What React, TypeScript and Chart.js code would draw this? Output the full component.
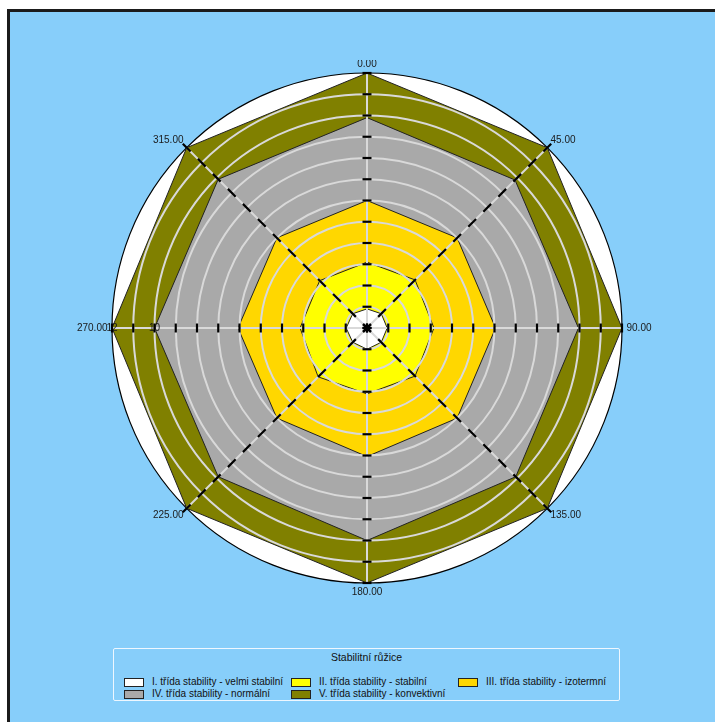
import React, { useEffect, useRef } from "react";
import { Chart, registerables } from "chart.js";

Chart.register(...registerables);

// ---- data ----
const directions = ["0.00", "45.00", "90.00", "135.00", "180.00", "225.00", "270.00", "315.00"];
// outer radius of each stability class polygon (cumulative), per direction
const classI = [0.9, 0.95, 0.95, 0.95, 1.0, 0.95, 0.98, 0.95];
const classII = [3.1, 3.2, 3.15, 3.2, 3.1, 3.25, 3.15, 3.15];
const classIII = [6.0, 6.0, 6.05, 6.0, 6.05, 6.0, 6.07, 6.0];
const classIV = [9.9, 9.85, 9.95, 9.9, 10.0, 9.9, 10.0, 9.9];
const classV = [12, 12, 12, 12, 12, 12, 12, 12];

const seriesNames = [
  "I. třída stability - velmi stabilní",
  "II. třída stability - stabilní",
  "III. třída stability - izotermní",
  "IV. třída stability - normální",
  "V. třída stability - konvektivní",
];
const seriesColors = ["#FFFFFF", "#FFFF00", "#FFD700", "#A9A9A9", "#808000"];
const legendTitle = "Stabilitní růžice";
const axisTickLabels = [10, 12];
const scaleMax = 12;

const FONT = "'Liberation Sans', Arial, sans-serif";

const decorPlugin = {
  id: "decor",
  beforeDatasetsDraw(chart: any) {
    const s = chart.scales.r;
    const ctx = chart.ctx;
    ctx.save();
    ctx.beginPath();
    ctx.arc(s.xCenter, s.yCenter, s.drawingArea, 0, Math.PI * 2);
    ctx.fillStyle = "#FFFFFF";
    ctx.fill();
    ctx.restore();
  },
  afterDraw(chart: any) {
    const s = chart.scales.r;
    const ctx = chart.ctx;
    ctx.save();
    // tick labels along the 270 axis
    ctx.font = "10px " + FONT;
    ctx.fillStyle = "#1a1a1a";
    ctx.textAlign = "center";
    ctx.textBaseline = "middle";
    axisTickLabels.forEach((v) => {
      const p = s.getPointPositionForValue(6, v);
      ctx.fillText(String(v), p.x, p.y);
    });
    // tick marks on every axis
    ctx.strokeStyle = "#000";
    ctx.lineWidth = 2.2;
    for (let i = 0; i < directions.length; i++) {
      const a = s.getIndexAngle(i) - Math.PI / 2;
      const dx = Math.cos(a);
      const dy = Math.sin(a);
      const diag = i % 2 === 1;
      const hx = diag ? dx * 5.5 : -dy * 4.5;
      const hy = diag ? dy * 5.5 : dx * 4.5;
      for (let v = 0; v <= scaleMax; v++) {
        const p = s.getPointPositionForValue(i, v);
        ctx.beginPath();
        ctx.moveTo(p.x - hx, p.y - hy);
        ctx.lineTo(p.x + hx, p.y + hy);
        ctx.stroke();
      }
    }
    ctx.restore();
  },
};

export default function App() {
  const ref = useRef<HTMLCanvasElement | null>(null);

  useEffect(() => {
    if (!ref.current) return;
    const series = [classI, classII, classIII, classIV, classV];
    const chart = new Chart(ref.current, {
      type: "radar",
      data: {
        labels: directions,
        datasets: series.map((d, k) => ({
          label: seriesNames[k],
          data: d,
          backgroundColor: seriesColors[k],
          borderColor: "#222",
          borderWidth: 1,
          fill: true,
          pointRadius: 0,
          pointHoverRadius: 0,
          tension: 0,
        })),
      },
      options: {
        responsive: false,
        animation: false,
        devicePixelRatio: 1,
        layout: { padding: 0 },
        plugins: {
          legend: { display: false },
          tooltip: { enabled: false },
          title: { display: false },
        },
        scales: {
          r: {
            min: 0,
            max: scaleMax,
            startAngle: 0,
            ticks: { display: false, stepSize: 1 },
            grid: {
              circular: true,
              z: 1,
              color: (c: any) => (c.tick && c.tick.value === scaleMax ? "#000" : "#d9d9d9"),
              lineWidth: (c: any) => (c.tick && c.tick.value === scaleMax ? 1.2 : 2),
            } as any,
            angleLines: { color: "#d9d9d9", lineWidth: 2 },
            pointLabels: {
              color: "#1a1a1a",
              padding: 4.5,
              font: { family: FONT, size: 10, lineHeight: 0.85 },
            },
          },
        },
      } as any,
      plugins: [decorPlugin],
    });
    return () => chart.destroy();
  }, []);

  const colX = [10, 177, 344];
  const rowY = [29, 41];

  return (
    <div>
      <div
        style={{
          position: "fixed",
          left: 7,
          top: 9,
          width: 760,
          height: 760,
          border: "3px solid #1b1b1b",
          background: "#87CEFA",
        }}
      />
      <canvas
        ref={ref}
        width={700}
        height={536}
        style={{ position: "fixed", left: 17, top: 60, width: 700, height: 536 }}
      />
      <div
        style={{
          position: "fixed",
          left: 113,
          top: 648,
          width: 505,
          height: 51,
          border: "1px solid #eef7ff",
          borderRadius: 2,
          fontFamily: FONT,
          fontSize: 10,
          color: "#111",
        }}
      >
        <div
          style={{
            position: "absolute",
            left: 0,
            right: 0,
            top: 2,
            textAlign: "center",
            fontSize: 10.5,
            lineHeight: "12px",
          }}
        >
          {legendTitle}
        </div>
        {seriesNames.map((n, k) => (
          <div
            key={n}
            style={{
              position: "absolute",
              left: colX[k % 3],
              top: rowY[Math.floor(k / 3)] - 2,
              height: 12,
              display: "flex",
              alignItems: "center",
              whiteSpace: "nowrap",
              lineHeight: "12px",
            }}
          >
            <span
              style={{
                display: "inline-block",
                width: 18,
                height: 7,
                background: seriesColors[k],
                border: "1px solid #222",
                marginRight: 8,
              }}
            />
            <span>{n}</span>
          </div>
        ))}
      </div>
    </div>
  );
}
